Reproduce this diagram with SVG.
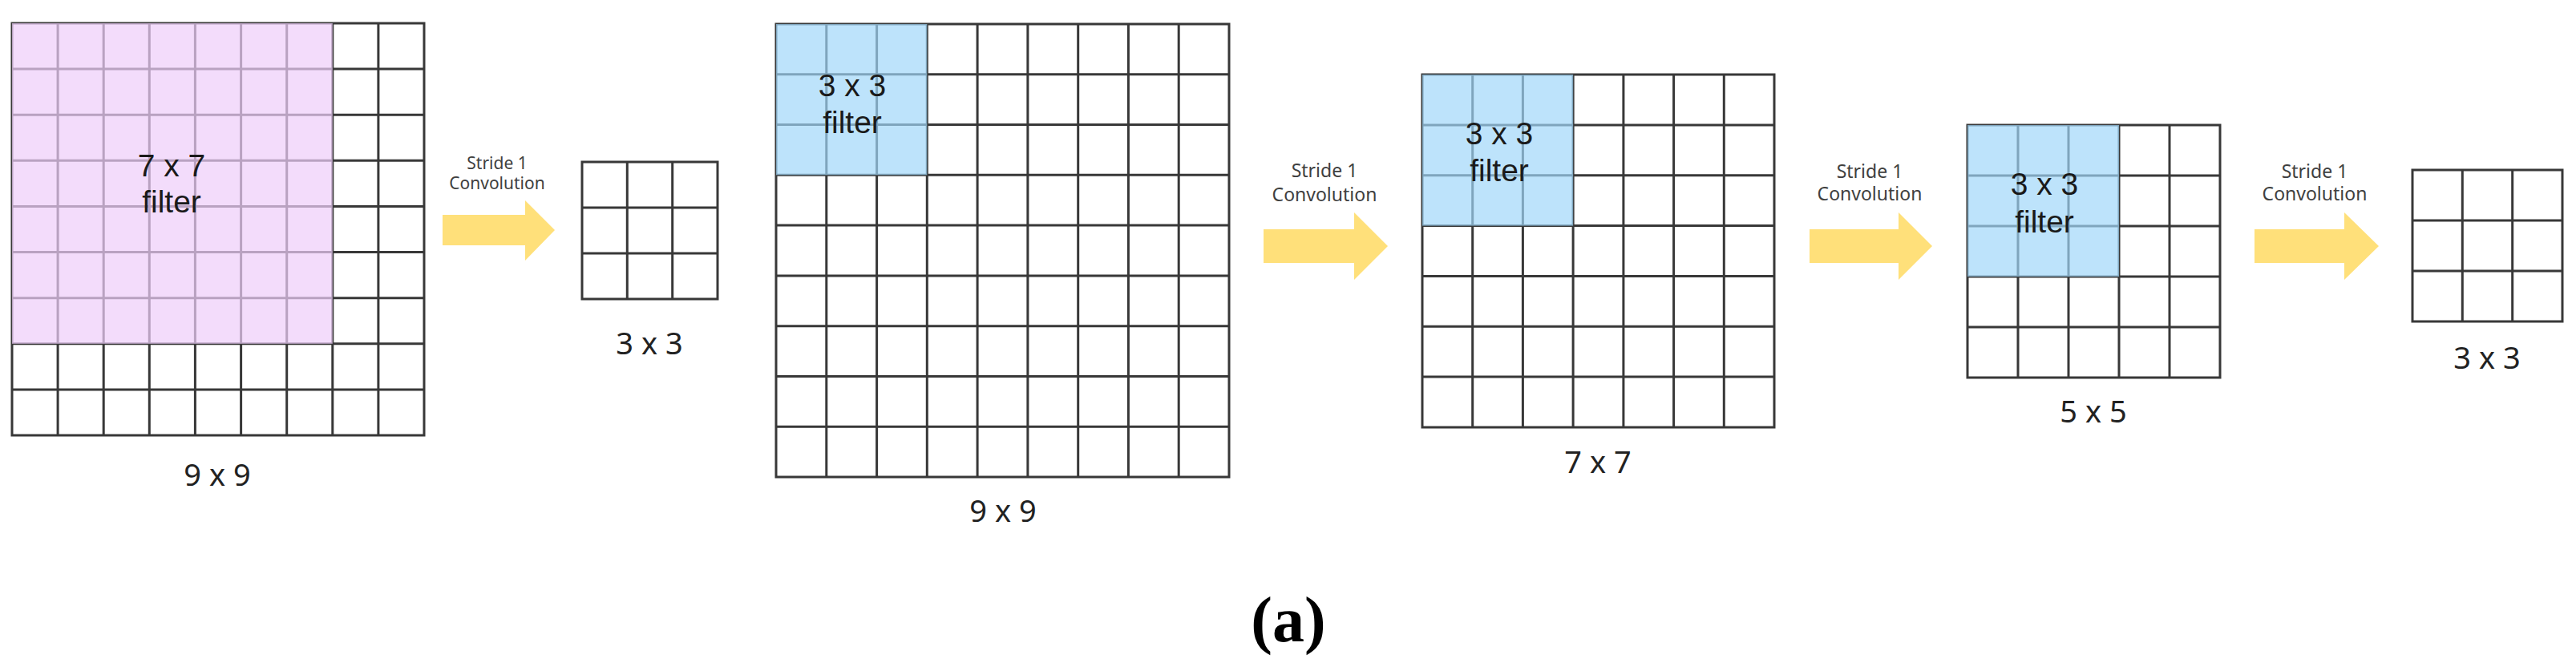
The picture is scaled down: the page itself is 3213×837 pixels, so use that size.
<svg xmlns="http://www.w3.org/2000/svg" width="3213" height="837" viewBox="0 0 3213 837">
<style>
.bg{fill:#ffffff}
.grid{fill:none;stroke:#383838;stroke-width:3}
.pink{fill:#EECEF9;opacity:0.71}
.blue{fill:#9FD6F9;opacity:0.69}
.arrow{fill:#FFE07A}
.lbl{font-family:"Noto Sans","Open Sans",sans-serif;font-size:38px;fill:#222;text-anchor:middle}
.flt{font-family:"Liberation Sans",Arial,sans-serif;font-size:39px;fill:#1a1a1a;text-anchor:middle}
.conv{font-family:"Noto Sans","Open Sans",sans-serif;font-size:23px;fill:#404040;text-anchor:middle}
.conv1{font-family:"Noto Sans","Open Sans",sans-serif;font-size:21px;fill:#404040;text-anchor:middle}
.cap{font-family:"Liberation Serif","Times New Roman",serif;font-size:80px;font-weight:bold;fill:#000;text-anchor:middle}
</style>
<rect class="bg" x="0" y="0" width="3213" height="837"/>

<g id="grid1-9x9">
<path class="grid" d="M15 29H529V543H15Z M72.1 29V543 M129.2 29V543 M186.3 29V543 M243.4 29V543 M300.6 29V543 M357.7 29V543 M414.8 29V543 M471.9 29V543 M15 86.1H529 M15 143.2H529 M15 200.3H529 M15 257.4H529 M15 314.6H529 M15 371.7H529 M15 428.8H529 M15 485.9H529"/>
<rect class="pink" x="15" y="29" width="399.8" height="399.8"/>
<text class="flt" x="214" y="220">7 x 7</text>
<text class="flt" x="214" y="265">filter</text>
<text class="lbl" x="271" y="606">9 x 9</text>
</g>

<g id="grid2-3x3">
<path class="grid" d="M726 202H895V373H726Z M782.3 202V373 M838.7 202V373 M726 259H895 M726 316H895"/>
<text class="lbl" x="810" y="442">3 x 3</text>
</g>

<g id="grid3-9x9">
<path class="grid" d="M968 30H1533V595H968Z M1030.8 30V595 M1093.6 30V595 M1156.3 30V595 M1219.1 30V595 M1281.9 30V595 M1344.7 30V595 M1407.4 30V595 M1470.2 30V595 M968 92.8H1533 M968 155.6H1533 M968 218.3H1533 M968 281.1H1533 M968 343.9H1533 M968 406.7H1533 M968 469.4H1533 M968 532.2H1533"/>
<rect class="blue" x="968" y="30" width="188.3" height="188.3"/>
<text class="flt" x="1063" y="120">3 x 3</text>
<text class="flt" x="1063" y="166">filter</text>
<text class="lbl" x="1251" y="651">9 x 9</text>
</g>

<g id="grid4-7x7">
<path class="grid" d="M1774 93H2213V533H1774Z M1836.7 93V533 M1899.4 93V533 M1962.1 93V533 M2024.9 93V533 M2087.6 93V533 M2150.3 93V533 M1774 155.9H2213 M1774 218.7H2213 M1774 281.6H2213 M1774 344.4H2213 M1774 407.3H2213 M1774 470.1H2213"/>
<rect class="blue" x="1774" y="93" width="188.1" height="188.6"/>
<text class="flt" x="1870" y="180">3 x 3</text>
<text class="flt" x="1870" y="226">filter</text>
<text class="lbl" x="1993" y="590">7 x 7</text>
</g>

<g id="grid5-5x5">
<path class="grid" d="M2454 156H2769V471H2454Z M2517 156V471 M2580 156V471 M2643 156V471 M2706 156V471 M2454 219H2769 M2454 282H2769 M2454 345H2769 M2454 408H2769"/>
<rect class="blue" x="2454" y="156" width="189" height="189"/>
<text class="flt" x="2550" y="243">3 x 3</text>
<text class="flt" x="2550" y="290">filter</text>
<text class="lbl" x="2611" y="527">5 x 5</text>
</g>

<g id="grid6-3x3">
<path class="grid" d="M3009 212H3196V401H3009Z M3071.3 212V401 M3133.7 212V401 M3009 275H3196 M3009 338H3196"/>
<text class="lbl" x="3102" y="460">3 x 3</text>
</g>

<g id="connectors">
<g id="arrow1">
<path class="arrow" d="M552 268H655V250L692 287L655 325V306H552Z"/>
<text class="conv1" x="620" y="211">Stride 1</text>
<text class="conv1" x="620" y="236">Convolution</text>
</g>
<g id="arrow2">
<path class="arrow" d="M1576 286H1689V265L1731 307L1689 349V328H1576Z"/>
<text class="conv" x="1652" y="221">Stride 1</text>
<text class="conv" x="1652" y="251">Convolution</text>
</g>
<g id="arrow3">
<path class="arrow" d="M2257 286H2368V265L2410 307L2368 349V328H2257Z"/>
<text class="conv" x="2332" y="222">Stride 1</text>
<text class="conv" x="2332" y="250">Convolution</text>
</g>
<g id="arrow4">
<path class="arrow" d="M2812 286H2924V265L2967 307L2924 349V328H2812Z"/>
<text class="conv" x="2887" y="222">Stride 1</text>
<text class="conv" x="2887" y="250">Convolution</text>
</g>
</g>

<text class="cap" x="1607" y="800">(a)</text>
</svg>
